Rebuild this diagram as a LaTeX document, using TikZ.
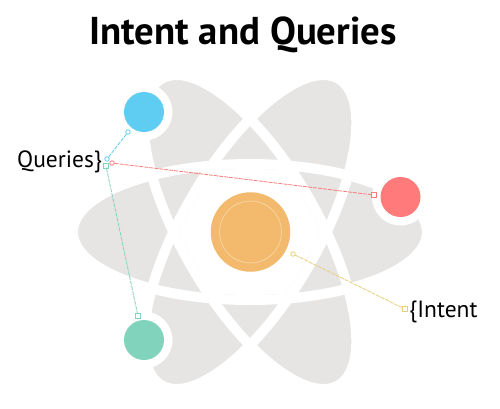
\documentclass[tikz,border=0pt]{standalone}
\usepackage{fontspec}
\setmainfont{PT Sans}
\definecolor{atomgray}{HTML}{E6E5E4}
\definecolor{cblue}{HTML}{5FCDF1}
\definecolor{cred}{HTML}{FF7A7B}
\definecolor{cteal}{HTML}{82D3BC}
\definecolor{corange}{HTML}{F3BA6E}
\definecolor{cyellow}{HTML}{E8CD7A}
\tikzset{
  orbit/.style={x radius=172,y radius=63},
  orbitband/.style={x radius=177,y radius=68},
  ball/.style={circle,minimum size=40pt,inner sep=0pt,draw=none},
  halo/.style={circle,fill=white,minimum size=57pt,inner sep=0pt},
  rmark/.style={circle,draw=#1,line width=.8pt,minimum size=4.5pt,inner sep=0pt},
  smark/.style={rectangle,draw=#1,line width=.8pt,minimum size=4.5pt,inner sep=0pt},
  lead/.style={draw=#1,line width=.8pt,dash pattern=on 4pt off 1pt},
  lbl/.style={inner sep=0pt,font=\fontsize{23.5}{24}\selectfont,text=black}
}
\begin{document}
\begin{tikzpicture}[x=1pt,y=-1pt]
\useasboundingbox (0,0) rectangle (500,408);
\fill[white] (0,0) rectangle (500,408);
% atom
\foreach \a in {0,60,-60}
  \fill[atomgray,rotate around={\a:(250,232)}] (250,232) ellipse [orbit];
\foreach \a in {0,60,-60}
  \draw[white,line width=10pt,rotate around={\a:(250,232)}] (250,232) ellipse [orbitband];
\begin{scope}
  \clip (250,232) ellipse [orbit];
  \clip[rotate around={60:(250,232)}] (250,232) ellipse [orbit];
  \clip[rotate around={-60:(250,232)}] (250,232) ellipse [orbit];
  \fill[white] (60,40) rectangle (440,400);
\end{scope}
% halos and balls
\node[halo] (hb) at (144,112) {};
\node[halo] (hr) at (400.5,197) {};
\node[halo] (ht) at (144,340) {};
\node[ball,fill=cblue] (blue) at (144,112) {};
\node[ball,fill=cred] (red) at (400.5,197) {};
\node[ball,fill=cteal] (teal) at (144,340) {};
\node[circle,fill=corange,minimum size=79.5pt,inner sep=0pt] (core) at (250.5,232) {};
\node[circle,draw=white!50!corange,line width=.5pt,minimum size=62pt,inner sep=0pt] (corein) at (250.5,232) {};
% title and labels
\node[inner sep=0pt,font=\bfseries\fontsize{38.8}{39}\selectfont] (title) at (243,34.5) {Intent and Queries};
\node[lbl,anchor=west] (qlab) at (17,162) {Queries\}};
\node[lbl,anchor=west] (ilab) at (409,312) {\{Intent};
% leaders
\node[rmark=cblue] (b1) at (128,132) {};
\node[rmark=cblue] (b2) at (107,159) {};
\node[rmark=cred] (r1) at (112,163) {};
\node[smark=cred] (r2) at (374,195) {};
\node[smark=cteal] (t1) at (106,166) {};
\node[smark=cteal] (t2) at (138,316) {};
\node[rmark=cyellow] (y1) at (293,254) {};
\node[smark=cyellow] (y2) at (405,309) {};
\draw[lead=cblue] (b1) -- (b2);
\draw[lead=cred] (r1) -- (r2);
\draw[lead=cteal] (t1) -- (t2);
\draw[lead=cyellow] (y1) -- (y2);
\end{tikzpicture}
\end{document}
